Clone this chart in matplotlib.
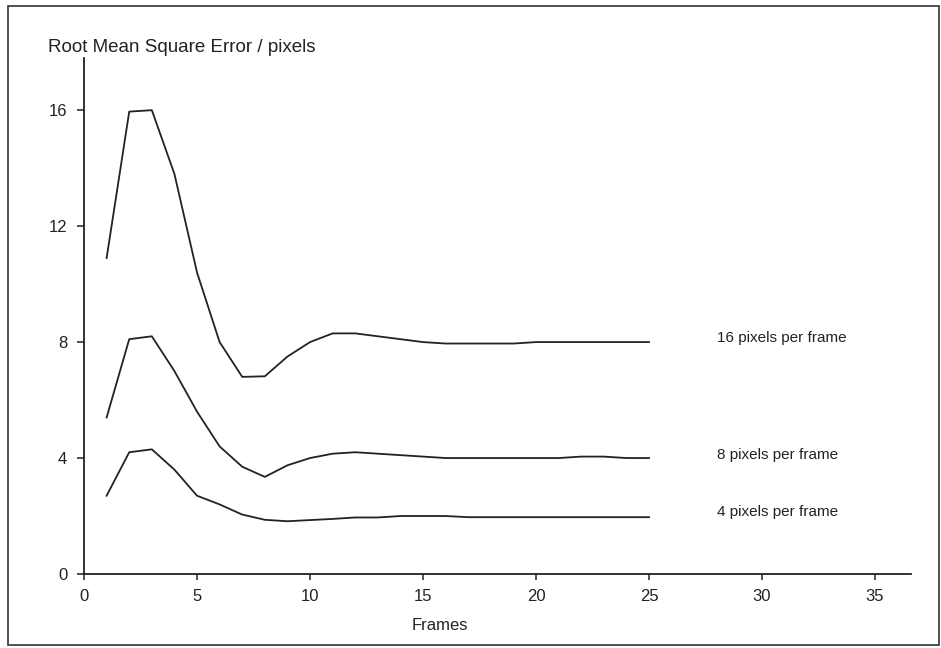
import matplotlib
matplotlib.use('Agg')
import matplotlib.pyplot as plt
from matplotlib.patches import Rectangle

plt.rcParams['font.family'] = ['Liberation Sans', 'DejaVu Sans']

frames = list(range(1, 26))
rmse_16 = [10.9, 15.95, 16.0, 13.8, 10.4, 8.0, 6.8, 6.82, 7.5, 8.0, 8.3, 8.3, 8.2, 8.1, 8.0,
           7.95, 7.95, 7.95, 7.95, 8.0, 8.0, 8.0, 8.0, 8.0, 8.0]
rmse_8 = [5.4, 8.1, 8.2, 7.0, 5.6, 4.4, 3.7, 3.35, 3.75, 4.0, 4.15, 4.2, 4.15, 4.1, 4.05,
          4.0, 4.0, 4.0, 4.0, 4.0, 4.0, 4.05, 4.05, 4.0, 4.0]
rmse_4 = [2.7, 4.2, 4.3, 3.6, 2.7, 2.4, 2.05, 1.87, 1.82, 1.86, 1.9, 1.95, 1.95, 2.0, 2.0,
          2.0, 1.96, 1.96, 1.96, 1.96, 1.96, 1.96, 1.96, 1.96, 1.96]
series = [(rmse_16, '16 pixels per frame', 8.15),
          (rmse_8, '8 pixels per frame', 4.12),
          (rmse_4, '4 pixels per frame', 2.15)]

fig = plt.figure(figsize=(9.41, 6.48), dpi=100)
ax = fig.add_axes([0.0893, 0.1142, 0.879, 0.7963])

for vals, label, ty in series:
    ax.plot(frames, vals, color='#222222', lw=1.3)
    ax.text(28.0, ty, label, fontsize=11, va='center', ha='left', color='#222222')

ax.set_xlim(0, 36.6)
ax.set_ylim(0, 17.8)
ax.set_xticks([0, 5, 10, 15, 20, 25, 30, 35])
ax.set_yticks([0, 4, 8, 12, 16])
for s in ['top', 'right']:
    ax.spines[s].set_visible(False)
for s in ['left', 'bottom']:
    ax.spines[s].set_color('#222222')
    ax.spines[s].set_linewidth(1.3)
ax.tick_params(axis='y', length=5, width=1.1, labelsize=12, colors='#222222', pad=7)
ax.tick_params(axis='x', length=4, width=1.1, labelsize=12, colors='#222222', pad=7)
ax.set_xlabel('Frames', fontsize=12, color='#222222')
ax.xaxis.set_label_coords(0.43, -0.085)

fig.text(0.051, 0.926, 'Root Mean Square Error / pixels', fontsize=13.5,
         va='center', ha='left', color='#222222')

fig.patches.append(Rectangle((0.008, 0.004), 0.99, 0.986, transform=fig.transFigure,
                             fill=False, edgecolor='#333333', lw=1.2))

fig.savefig('out.png', dpi=100)
